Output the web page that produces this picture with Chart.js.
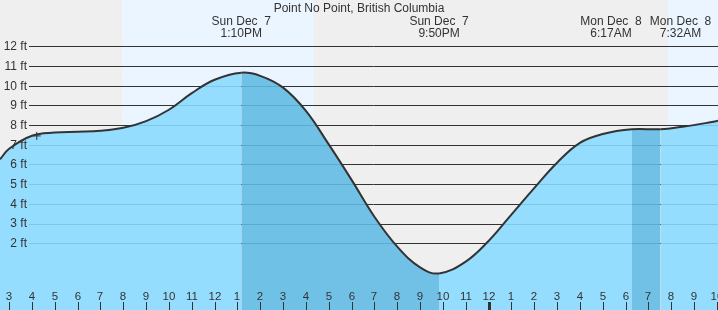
<!DOCTYPE html>
<html>
<head>
<meta charset="utf-8">
<script src="https://cdn.jsdelivr.net/npm/chart.js@4.4.1/dist/chart.umd.min.js"></script>
<style>
  html, body { margin: 0; padding: 0; background: #efefef; }
  #wrap { width: 718px; height: 310px; }
</style>
</head>
<body>
<div id="wrap"><canvas id="tide"></canvas></div>
<script>
/* ─── Data ────────────────────────────────────────────────── */
// hours counted from Sun Dec 7 00:00
const TITLE = 'Point No Point, British Columbia';

const tideHours = [2.6, 3, 4, 5, 6, 7, 8, 9, 10, 11, 12, 13.167, 14, 15, 16, 17, 18, 19, 20, 21,
  21.833, 23, 24, 25, 26, 27, 28, 29, 30.283, 31.533, 32.5, 33.5, 34.05];
const tideFeet  = [6.26, 6.8, 7.46, 7.62, 7.66, 7.71, 7.86, 8.2, 8.78, 9.62, 10.3, 10.66, 10.5, 9.9, 8.72, 7.02, 5.22, 3.35, 1.83, 0.78,
  0.47, 1.07, 2.12, 3.46, 4.8, 6.09, 7.1, 7.55, 7.79, 7.79, 7.92, 8.1, 8.22];

const nowHour = 4.21;
const nowFeet = 7.45;

const eventHours = [13.167, 21.833, 30.283, 31.533];
const eventDays  = ['Sun Dec  7', 'Sun Dec  7', 'Mon Dec  8', 'Mon Dec  8'];
const eventTimes = ['1:10PM', '9:50PM', '6:17AM', '7:32AM'];

const daylight   = [[7.94, 16.35], [31.85, 34.05]];
const darkBands  = [[13.167, 21.833], [30.283, 31.533]];

const hourTicks  = Array.from({ length: 32 }, (_, i) => i + 3);
const feetTicks  = [2, 3, 4, 5, 6, 7, 8, 9, 10, 11, 12];

/* ─── Style ───────────────────────────────────────────────── */
const INK   = '#333333';
const FONT  = "12px 'Liberation Sans', Arial, sans-serif";
const FONT_X = "11.5px 'Liberation Sans', Arial, sans-serif";

function hourLabel(h) {
  const v = h % 12;
  return String(v === 0 ? 12 : v);
}
function inBand(a, b) {
  return darkBands.some(([s, e]) => a >= s - 1e-6 && b <= e + 1e-6);
}

/* ─── Plugin: background, grid, axes, labels ─────────────── */
const tideDecor = {
  id: 'tideDecor',
  beforeDatasetsDraw(chart) {
    const { ctx, chartArea: a, scales: { x, y } } = chart;
    ctx.save();
    ctx.fillStyle = '#efefef';
    ctx.fillRect(a.left, a.top, a.right - a.left, a.bottom - a.top);
    ctx.fillStyle = '#ebf5ff';
    daylight.forEach(([s, e]) => {
      const x0 = x.getPixelForValue(s), x1 = x.getPixelForValue(e);
      ctx.fillRect(x0, a.top, x1 - x0, a.bottom - a.top);
    });
    ctx.strokeStyle = INK;
    ctx.lineWidth = 1;
    feetTicks.forEach(f => {
      const py = Math.round(y.getPixelForValue(f)) + 0.5;
      ctx.beginPath();
      ctx.moveTo(29, py);
      ctx.lineTo(a.right, py);
      ctx.stroke();
    });
    ctx.restore();
  },
  afterDatasetsDraw(chart) {
    const { ctx, chartArea: a, scales: { x, y } } = chart;
    ctx.save();
    ctx.fillStyle = INK;
    ctx.font = FONT;

    // y labels
    ctx.textAlign = 'right';
    ctx.textBaseline = 'middle';
    feetTicks.forEach(f => ctx.fillText(f + ' ft', 27, y.getPixelForValue(f) + 0.5));

    // x labels + ticks
    ctx.font = FONT_X;
    ctx.textAlign = 'center';
    ctx.textBaseline = 'alphabetic';
    hourTicks.forEach(h => {
      const px = Math.round(x.getPixelForValue(h));
      ctx.fillText(hourLabel(h), px, 300);
      ctx.fillRect(px - (h === 24 ? 1 : 0), 302, h === 24 ? 3 : 1, 8);
    });

    // title + event labels
    ctx.font = FONT;
    ctx.fillText(TITLE, (a.left + a.right) / 2, 12);
    const shift = [0, 0, -21, 20];
    eventHours.forEach((h, i) => {
      const px = x.getPixelForValue(h) + shift[i];
      ctx.fillText(eventDays[i], px, 24.5);
      ctx.fillText(eventTimes[i], px, 37);
    });
    ctx.restore();
  },
};

/* ─── Chart ───────────────────────────────────────────────── */
new Chart(document.getElementById('tide').getContext('2d'), {
  type: 'line',
  data: {
    datasets: [
      {
        data: [{ x: nowHour, y: nowFeet }],
        showLine: false,
        pointStyle: 'cross',
        pointRadius: 4,
        borderColor: INK,
        borderWidth: 1,
      },
      {
        data: tideHours.map((h, i) => ({ x: h, y: tideFeet[i] })),
        borderColor: INK,
        borderWidth: 2,
        backgroundColor: 'rgba(137,218,255,0.89)',
        fill: 'start',
        pointRadius: 0,
        tension: 0.4,
        segment: {
          backgroundColor: c => inBand(c.p0.parsed.x, c.p1.parsed.x) ? 'rgba(96,186,227,0.89)' : undefined,
        },
      },
    ],
  },
  options: {
    responsive: true,
    maintainAspectRatio: false,
    animation: false,
    layout: { padding: 0, autoPadding: false },
    scales: {
      x: { type: 'linear', min: 2.6, max: 34.05, display: false },
      y: { type: 'linear', min: -1.386, max: 14.35, display: false },
    },
    plugins: { legend: { display: false }, tooltip: { enabled: false } },
  },
  plugins: [tideDecor],
});
</script>
</body>
</html>
